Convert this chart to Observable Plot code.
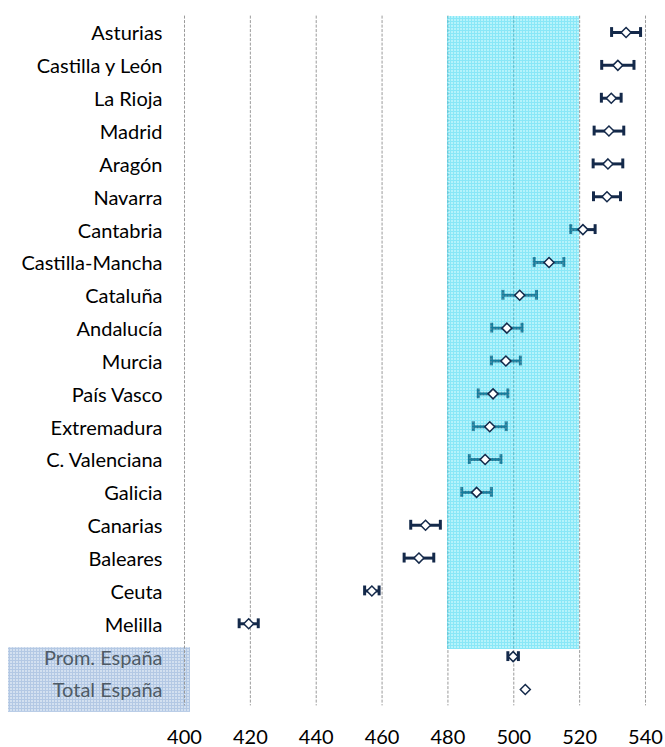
<!DOCTYPE html>
<html>
<head>
<meta charset="utf-8">
<script src="https://cdn.jsdelivr.net/npm/d3@7"></script>
<script src="https://cdn.jsdelivr.net/npm/@observablehq/plot@0.6"></script>
<style>
  html, body { margin: 0; padding: 0; background: #fff; }
  #chart svg { display: block; }
</style>
</head>
<body>
<div id="chart"></div>
<script>
// ---- data ----
const names = ["Asturias", "Castilla y León", "La Rioja", "Madrid", "Aragón", "Navarra",
  "Cantabria", "Castilla-Mancha", "Cataluña", "Andalucía", "Murcia", "País Vasco",
  "Extremadura", "C. Valenciana", "Galicia", "Canarias", "Baleares", "Ceuta", "Melilla",
  "Prom. España", "Total España"];
const means = [534.1, 531.6, 529.6, 528.9, 528.6, 528.3, 521.0, 510.7, 501.8, 497.9,
  497.6, 493.7, 492.7, 491.3, 488.7, 473.2, 471.2, 456.9, 419.5, 499.8, 503.5];
const errors = [4.4, 4.9, 3.0, 4.5, 4.5, 4.1, 3.7, 4.5, 5.1, 4.6, 4.4, 4.5, 5.0, 4.8,
  4.5, 4.5, 4.5, 2.2, 2.9, 1.6, null];
const xTicks = [400, 420, 440, 460, 480, 500, 520, 540];
const bandLow = 480, bandHigh = 520;
const summaryNames = ["Prom. España", "Total España"];

(function () {
const rows = names.map((n, i) => ({name: n, mean: means[i], err: errors[i]}));
const withErr = rows.filter(d => d.err != null);
const regionNames = names.filter(n => !summaryNames.includes(n));

const navy = "#14294a";

const plot = Plot.plot({
  width: 665,
  height: 747,
  marginLeft: 184,
  marginRight: 20,
  marginTop: 15.6,
  marginBottom: 41.6,
  style: {fontFamily: "Lato, sans-serif", background: "white", color: "#000"},
  x: {domain: [400, 540]},
  y: {domain: names, padding: 0, round: false},
  marks: [
    Plot.ruleX(xTicks, {stroke: "#9a9a9a", strokeDasharray: "3,1.5", strokeWidth: 1}),
    Plot.ruleY(withErr, {y: "name", x1: d => d.mean - d.err, x2: d => d.mean + d.err, stroke: navy, strokeWidth: 3}),
    Plot.tickX(withErr, {x: d => d.mean - d.err, y: "name", stroke: navy, strokeWidth: 3, insetTop: 11.5, insetBottom: 11.5}),
    Plot.tickX(withErr, {x: d => d.mean + d.err, y: "name", stroke: navy, strokeWidth: 3, insetTop: 11.5, insetBottom: 11.5}),
    Plot.barX(regionNames, {y: d => d, x1: bandLow, x2: bandHigh, fill: "url(#cyanGrid)", fillOpacity: 0.5, shapeRendering: "crispEdges"}),
    Plot.barX(["Prom. España"], {y: d => d, x1: bandLow, x2: bandHigh, fill: "url(#cyanGrid)", fillOpacity: 0.5, shapeRendering: "crispEdges", insetBottom: 23.5}),
    Plot.dot(rows, {x: "mean", y: "name", symbol: "diamond2", r: 4.5, fill: "white", stroke: navy, strokeWidth: 1.5}),
    Plot.axisX({ticks: xTicks, tickSize: 0, tickPadding: 24, fontSize: 20, label: null, tickFormat: d => String(d), fill: "#000"}),
    Plot.axisY({tickSize: 0, tickPadding: 22, fontSize: 20, label: null, dy: 1.5, fill: "#000"})
  ]
});

const svg = d3.select(plot);
const defs = svg.insert("defs", ":first-child");
const cp = defs.append("pattern").attr("id", "cyanGrid").attr("width", 3).attr("height", 3).attr("patternUnits", "userSpaceOnUse");
cp.append("rect").attr("width", 3).attr("height", 3).attr("fill", "rgb(110,232,248)");
cp.append("path").attr("d", "M0 0.5H3M0.5 0V3").attr("stroke", "rgb(20,208,240)").attr("stroke-width", 1);
const bp = defs.append("pattern").attr("id", "blueGrid").attr("width", 3).attr("height", 3).attr("patternUnits", "userSpaceOnUse");
bp.append("rect").attr("width", 3).attr("height", 3).attr("fill", "#d3e0f0");
bp.append("path").attr("d", "M0 0.5H3M0.5 0V3").attr("stroke", "#b3c8e4").attr("stroke-width", 1);

// background box behind the summary labels, positioned from the y scale
const ys = plot.scale("y");
const bw = (ys.range[1] - ys.range[0]) / ys.domain.length;
const yPos = n => ys.range[0] + ys.domain.indexOf(n) * bw;
const boxTop = yPos(summaryNames[0]) + 7.5;
const boxBottom = yPos(summaryNames[1]) + bw + 6.5;
svg.insert("rect", "defs + *")
  .attr("x", 8).attr("width", 182)
  .attr("y", boxTop).attr("height", boxBottom - boxTop)
  .attr("fill", "url(#blueGrid)");

svg.selectAll('g[aria-label="y-axis tick label"] text')
  .filter(function() { return summaryNames.includes(this.textContent); })
  .attr("fill", "#4f5b66");

document.getElementById("chart").appendChild(plot);
})();
</script>
</body>
</html>
